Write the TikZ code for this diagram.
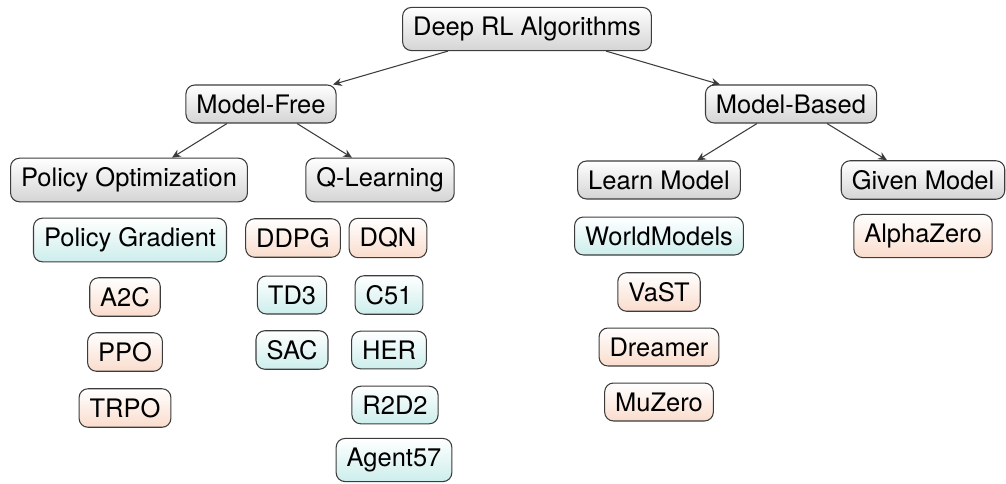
\documentclass[tikz,border=0pt]{standalone}
\usepackage{fontspec}
\setmainfont{TeX Gyre Heros}
\usepackage{tikz}
\usetikzlibrary{arrows.meta,positioning,calc}

\definecolor{boxline}{RGB}{60,60,60}
\definecolor{catgray}{RGB}{212,212,212}
\definecolor{leafcyan}{RGB}{204,238,236}
\definecolor{leaforange}{RGB}{250,220,204}

\begin{document}
\begin{tikzpicture}[
    x=0.02cm, y=-0.02cm,
    base/.style={draw=boxline, rounded corners=5pt, line width=0.6pt, inner xsep=0.21cm, inner ysep=0.19cm, align=center, font=\fontsize{14.5}{17}\selectfont, top color=white},
    cat/.style={base, bottom color=catgray},
    onp/.style={base, bottom color=leafcyan},
    offp/.style={base, bottom color=leaforange},
    arr/.style={-{Stealth[length=5pt, width=4.5pt]}, line width=0.6pt, draw=boxline}
]
\useasboundingbox (0,0) rectangle (1006,483);

% categories
\node[cat] (R) at (527,29) {Deep RL Algorithms};
\node[cat] (MF) at (261,104) {Model-Free};
\node[cat] (MB) at (791,104) {Model-Based};
\node[cat] (PO) at (129,180) {Policy Optimization};
\node[cat] (QL) at (380,180) {Q-Learning};
\node[cat] (LM) at (659,180) {Learn Model};
\node[cat] (GM) at (923,180) {Given Model};

% policy optimization
\node[onp] (PG) at (130,240) {Policy Gradient};
\node[offp] (A2C) at (125,297) {A2C};
\node[offp] (PPO) at (125,352) {PPO};
\node[offp] (TRPO) at (125,408) {TRPO};

% in between
\node[offp] (DDPG) at (293,238) {DDPG};
\node[onp] (TD3) at (292,295) {TD3};
\node[onp] (SAC) at (292,350) {SAC};

% q-learning
\node[offp] (DQN) at (388,238) {DQN};
\node[onp] (C51) at (389,295) {C51};
\node[onp] (HER) at (389,350) {HER};
\node[onp] (R2D2) at (395,405) {R2D2};
\node[onp] (A57) at (394,460) {Agent57};

% model-based
\node[onp] (WM) at (659,236) {WorldModels};
\node[offp] (VaST) at (659,292) {VaST};
\node[offp] (DR) at (659,347) {Dreamer};
\node[offp] (MZ) at (659,402) {MuZero};
\node[offp] (AZ) at (923,236) {AlphaZero};

\draw[arr] ([xshift=-1.58cm]R.south) -- ([xshift=1.44cm]MF.north);
\draw[arr] ([xshift=1.58cm]R.south) -- ([xshift=-1.42cm]MB.north);
\draw[arr] ([xshift=-0.68cm]MF.south) -- ([xshift=0.86cm]PO.north);
\draw[arr] ([xshift=0.72cm]MF.south) -- ([xshift=-0.56cm]QL.north);
\draw[arr] ([xshift=-0.68cm]MB.south) -- ([xshift=0.76cm]LM.north);
\draw[arr] ([xshift=0.72cm]MB.south) -- ([xshift=-0.72cm]GM.north);
\end{tikzpicture}
\end{document}
